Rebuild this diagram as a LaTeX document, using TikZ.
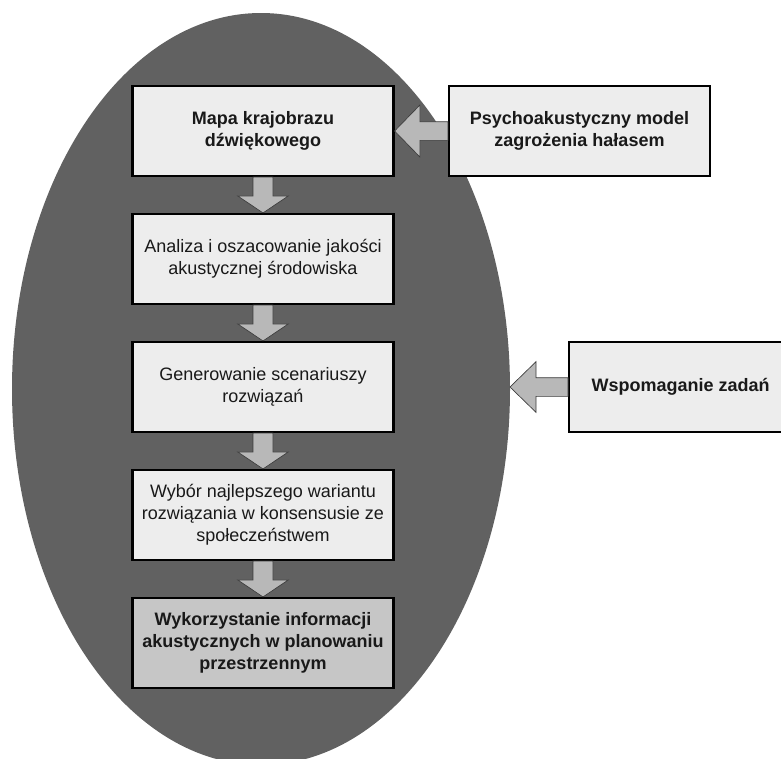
\documentclass[tikz,border=0pt]{standalone}
\usepackage{fontspec}
\setmainfont{Liberation Sans}
\usetikzlibrary{calc}
\definecolor{ovalgray}{HTML}{616161}
\definecolor{boxgray}{HTML}{EDEDED}
\definecolor{lastgray}{HTML}{C6C6C6}
\definecolor{arrowgray}{HTML}{B8B8B8}
\definecolor{arrowline}{HTML}{3C3C3C}
\tikzset{
	stagebox/.style={draw=black,line width=1.6pt,fill=boxgray,minimum width=195.75pt,minimum height=67.5pt,
		align=center,inner sep=2pt,text=black!90,font=\fontsize{13.5}{16.5}\selectfont},
	boldbox/.style={stagebox,font=\fontsize{13.5}{16.5}\selectfont\bfseries},
	fatarrow/.style={fill=arrowgray,draw=arrowline,line width=0.5pt,line join=miter},
}
% block arrow: from #1 to #2, shaft half width #3, head half width #4, head length #5
\newcommand{\fatblock}[5]{%
	\coordinate (hb) at ($(#2)!#5!(#1)$);
	\draw[fatarrow] ($(#1)!#3!90:(#2)$) -- ($(hb)!#3!90:(#2)$) -- ($(hb)!#4!90:(#2)$) -- (#2)
		-- ($(hb)!#4!-90:(#2)$) -- ($(hb)!#3!-90:(#2)$) -- ($(#1)!#3!-90:(#2)$) -- cycle;}
\begin{document}
\begin{tikzpicture}[x=0.75pt,y=-0.75pt]
	\useasboundingbox (0,0) rectangle (781,758);
	\clip (0,0) rectangle (781,758);
	\fill[ovalgray] (261,389) ellipse (249 and 376);
	% stages
	\node[boldbox] (map) at (263,131) {Mapa krajobrazu\\dźwiękowego};
	\node[stagebox] (analysis) at (263,259) {Analiza i oszacowanie jakości\\akustycznej środowiska};
	\node[stagebox] (scenario) at (263,387) {Generowanie scenariuszy\\rozwiązań};
	\node[stagebox] (choice) at (263,515) {Wybór najlepszego wariantu\\rozwiązania w konsensusie ze\\społeczeństwem};
	\node[boldbox,fill=lastgray] (final) at (263,643) {Wykorzystanie informacji\\akustycznych w planowaniu\\przestrzennym};
	% inputs
	\node[boldbox] (psycho) at (579.5,131) {Psychoakustyczny model\\zagrożenia hałasem};
	\node[boldbox,anchor=west,minimum width=167.25pt] (support) at (568,387) {Wspomaganie zadań};
	\coordinate (rim) at (510,387);
	% arrows
	\fatblock{map.south}{analysis.north}{7.5pt}{19pt}{12.75pt}
	\fatblock{analysis.south}{scenario.north}{7.5pt}{19pt}{12.75pt}
	\fatblock{scenario.south}{choice.north}{7.5pt}{19pt}{12.75pt}
	\fatblock{choice.south}{final.north}{7.5pt}{19pt}{12.75pt}
	\fatblock{psycho.west}{map.east}{7pt}{19.5pt}{19pt}
	\fatblock{support.west}{rim}{7pt}{19pt}{19.5pt}
\end{tikzpicture}
\end{document}
